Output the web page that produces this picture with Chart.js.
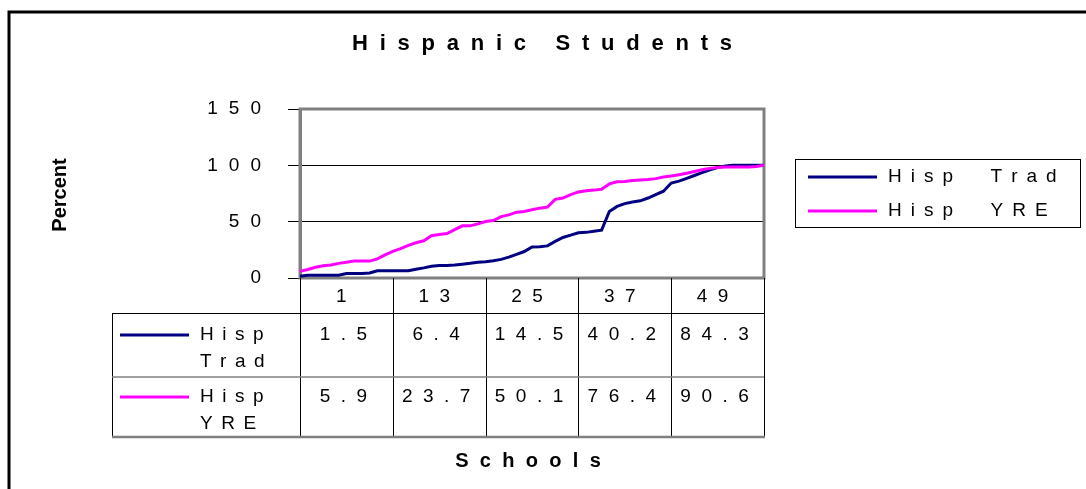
<!DOCTYPE html>
<html>
<head>
<meta charset="utf-8">
<script src="https://cdn.jsdelivr.net/npm/chart.js@4.4.1/dist/chart.umd.min.js"></script>
<style>
  html, body { margin: 0; padding: 0; background: #fff; overflow: hidden; }
  #wrap { position: relative; width: 1086px; height: 489px; }
</style>
</head>
<body>
<div id="wrap"><canvas id="c" width="1086" height="489"></canvas></div>
<script>
// Schools 1..61 along the category axis
const schools = Array.from({ length: 61 }, (_, i) => String(i + 1));

// Schools whose values are listed in the data table under the plot
const tableSchools = ['1', '13', '25', '37', '49'];

// Percent Hispanic, traditional calendar schools
const hispTrad = [
  1.5, 2.5, 2.5, 2.5, 2.5, 2.5, 4, 4, 4, 4.5,
  6.4, 6.4, 6.4, 6.4, 6.4, 7.7, 9, 10.5, 11, 11,
  11.5, 12.2, 13, 14, 14.5, 15.3, 16.5, 18.5, 21, 23.5,
  27.5, 27.8, 28.5, 32.5, 36, 38, 40.2, 40.5, 41.5, 42.5,
  59, 63.5, 66, 67.5, 68.5, 71, 74, 77, 84.3, 86,
  88.5, 91, 93.5, 96, 98, 99.5, 100, 100, 100, 100, 100
];

// Percent Hispanic, year-round schools
const hispYRE = [
  5.9, 7.5, 9.5, 10.8, 11.5, 13, 14, 15, 15, 15,
  17, 20.5, 23.7, 26, 29, 31.3, 33, 37.5, 38.6, 39.5,
  43, 46.3, 46.3, 48, 50.1, 51, 54.5, 56, 58.4, 59,
  60.5, 62, 63, 69.8, 71, 74, 76.4, 77.5, 78, 78.8,
  83.5, 85.4, 85.7, 86.6, 87, 87.5, 88.2, 89.7, 90.6, 91.6,
  93, 94.5, 96, 97.3, 98, 98.5, 98.5, 98.5, 98.5, 99, 100
];

const seriesNames = ['Hisp Trad', 'Hisp YRE'];
const seriesColors = ['#000080', '#FF00FF'];
const yTicks = [0, 50, 100, 150];

const FONT = "'Liberation Sans', Arial, sans-serif";

// Draws text one glyph at a time with extra tracking between glyphs
function spacedText(ctx, text, x, y, spacing, align) {
  const widths = [...text].map(ch => ctx.measureText(ch).width);
  const total = widths.reduce((a, b) => a + b, 0) + spacing * (text.length - 1);
  let pos = align === 'center' ? x - total / 2 : align === 'right' ? x - total : x;
  ctx.textAlign = 'left';
  [...text].forEach((ch, i) => {
    ctx.fillText(ch, pos, y);
    pos += widths[i] + spacing;
  });
}

const decor = {
  id: 'decor',
  beforeDraw(chart) {
    const ctx = chart.ctx;
    ctx.save();
    ctx.fillStyle = '#fff';
    ctx.fillRect(0, 0, chart.width, chart.height);
    ctx.restore();
    // tracked digits on the value axis
    ctx.letterSpacing = '11px';
  },
  beforeDatasetsDraw(chart) {
    const ctx = chart.ctx;
    const a = chart.chartArea;
    ctx.save();
    ctx.strokeStyle = '#808080';
    ctx.lineWidth = 3;
    ctx.strokeRect(a.left, a.top, a.right - a.left, a.bottom - a.top);
    ctx.restore();
  },
  afterDraw(chart) {
    const ctx = chart.ctx;
    const a = chart.chartArea;
    const xs = chart.scales.x;
    ctx.save();
    ctx.letterSpacing = '0px';
    ctx.fillStyle = '#000';
    ctx.textBaseline = 'middle';

    // title
    ctx.font = `bold 22px ${FONT}`;
    spacedText(ctx, 'Hispanic Students', 542, 44, 11.75, 'center');

    // value axis title
    ctx.save();
    ctx.translate(60, 195);
    ctx.rotate(-Math.PI / 2);
    ctx.font = `bold 20px ${FONT}`;
    ctx.textAlign = 'center';
    ctx.fillText('Percent', 0, 0);
    ctx.restore();

    // category axis title
    ctx.font = `bold 20px ${FONT}`;
    spacedText(ctx, 'Schools', 528, 461, 11.3, 'center');

    // data table: column edges every 12 schools on the category scale
    const colEdges = tableSchools.map(s => xs.getPixelForValue(schools.indexOf(s)));
    colEdges.push(a.right);
    const tblLeft = 112, rowTop = 313, rowMid = 377, rowBot = 437;

    ctx.lineWidth = 1;
    ctx.strokeStyle = '#000';
    ctx.beginPath();
    colEdges.forEach(x => { ctx.moveTo(Math.round(x) + 0.5, a.bottom); ctx.lineTo(Math.round(x) + 0.5, rowBot); });
    ctx.moveTo(tblLeft + 0.5, rowTop); ctx.lineTo(tblLeft + 0.5, rowBot);
    ctx.moveTo(tblLeft, rowTop + 0.5); ctx.lineTo(a.right, rowTop + 0.5);
    ctx.stroke();

    ctx.strokeStyle = '#808080';
    ctx.lineWidth = 1.5;
    ctx.beginPath();
    ctx.moveTo(tblLeft, rowMid); ctx.lineTo(a.right, rowMid);
    ctx.stroke();
    ctx.lineWidth = 2.5;
    ctx.beginPath();
    ctx.moveTo(tblLeft, rowBot); ctx.lineTo(a.right + 1, rowBot);
    ctx.stroke();

    ctx.font = `19px ${FONT}`;
    ctx.fillStyle = '#000';
    // header row: school numbers
    tableSchools.forEach((s, i) => {
      const cx = (colEdges[i] + colEdges[i + 1]) / 2 - 5;
      spacedText(ctx, s, cx, 297, 10.5, 'center');
    });

    // one table row per series
    const seriesData = [hispTrad, hispYRE];
    const rowY = [335, 397];
    seriesData.forEach((data, r) => {
      const y = rowY[r];
      ctx.strokeStyle = seriesColors[r];
      ctx.lineWidth = 3;
      ctx.beginPath();
      ctx.moveTo(120, y); ctx.lineTo(189, y);
      ctx.stroke();
      const words = seriesNames[r].split(' ');
      words.forEach((w, k) => spacedText(ctx, w, 200, y + k * 27, 8.5, 'left'));
      tableSchools.forEach((s, i) => {
        const v = data[schools.indexOf(s)];
        const cx = (colEdges[i] + colEdges[i + 1]) / 2 - 3;
        spacedText(ctx, v.toFixed(1), cx, y, 10.5, 'center');
      });
    });

    // legend box
    ctx.strokeStyle = '#000';
    ctx.lineWidth = 1;
    ctx.strokeRect(795.5, 159.5, 285, 68);
    const legY = [177, 211];
    seriesNames.forEach((name, r) => {
      ctx.strokeStyle = seriesColors[r];
      ctx.lineWidth = 3;
      ctx.beginPath();
      ctx.moveTo(808, legY[r]); ctx.lineTo(877, legY[r]);
      ctx.stroke();
      ctx.fillStyle = '#000';
      spacedText(ctx, name.replace(' ', '  '), 888, legY[r], 9, 'left');
    });

    // outer frame
    ctx.strokeStyle = '#000';
    ctx.lineWidth = 3;
    ctx.strokeRect(9, 12, 1100, 520);
    ctx.restore();
  }
};

new Chart(document.getElementById('c'), {
  type: 'line',
  data: {
    labels: schools,
    datasets: [
      { label: seriesNames[0], data: hispTrad, borderColor: seriesColors[0], borderWidth: 3,
        pointRadius: 0, tension: 0, fill: false, order: 1 },
      { label: seriesNames[1], data: hispYRE, borderColor: seriesColors[1], borderWidth: 3,
        pointRadius: 0, tension: 0, fill: false, order: 0 }
    ]
  },
  options: {
    responsive: false,
    animation: false,
    devicePixelRatio: 1,
    events: [],
    layout: { padding: { left: 0, top: 109, right: 322, bottom: 211 } },
    plugins: {
      legend: { display: false },
      title: { display: false },
      tooltip: { enabled: false }
    },
    scales: {
      x: { display: false, offset: false },
      y: {
        min: yTicks[0],
        max: yTicks[yTicks.length - 1],
        afterBuildTicks(scale) { scale.ticks = yTicks.map(v => ({ value: v })); },
        ticks: { color: '#000', font: { family: FONT, size: 19 }, padding: 16 },
        grid: { color: '#000', lineWidth: 1, tickLength: 12, tickColor: '#000' },
        border: { display: true, color: '#808080', width: 3 },
        afterFit(scale) { scale.width = 300; }
      }
    }
  },
  plugins: [decor]
});
</script>
</body>
</html>
